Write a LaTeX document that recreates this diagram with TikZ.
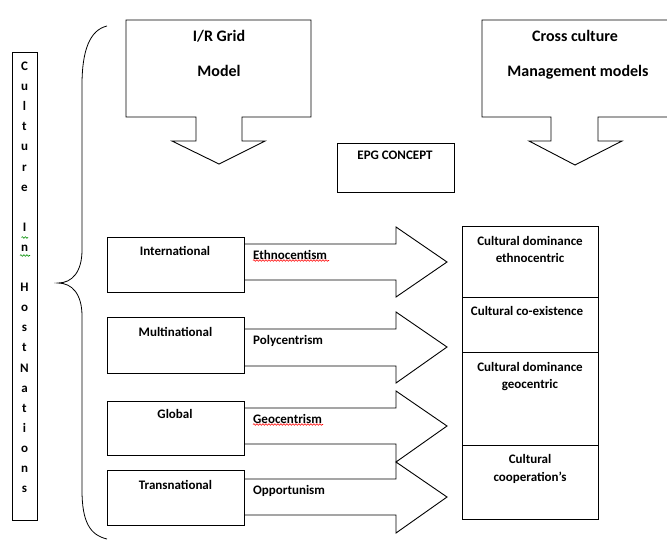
\documentclass[tikz,border=0pt]{standalone}
\usepackage{fontspec}
\setmainfont{Carlito}
\usetikzlibrary{positioning}
\usetikzlibrary{decorations.pathmorphing}

\tikzset{
  box/.style={rectangle,draw=black,line width=0.9pt,inner sep=0pt},
  lbl/.style={font=\fontsize{13}{16}\selectfont\bfseries,inner sep=0pt,anchor=base},
  ttl/.style={font=\fontsize{16}{20}\selectfont\bfseries,inner sep=0pt,anchor=base},
  blk/.style={draw=black,line width=0.9pt,line join=miter},
  squig/.style={decorate,decoration={snake,amplitude=0.8pt,segment length=3pt},line width=0.6pt}
}

\begin{document}
\begin{tikzpicture}[x=1pt,y=-1pt]
\useasboundingbox (0,0) rectangle (667,544);
% side column
\node[box,minimum width=25pt,minimum height=468pt,anchor=north west](side) at (12,52){};
\foreach \ch [count=\i from 0] in {C,u,l,t,u,r,e,{},I,n,{},H,o,s,t,N,a,t,i,o,n,s}
  \node[lbl](s\i) at (24.5,{70.5+20.1*\i}){\ch};
\draw[squig,green!55!black] (21.5,237.5) -- (28,237.5);
\draw[squig,green!55!black] (20,255.5) -- (30,255.5);
% brace
\draw[line width=0.8pt] (107,26) .. controls (90,30) and (82,50) .. (82,85) -- (82,250)
  .. controls (82,272) and (72,283) .. (58,283) .. controls (72,283) and (82,294) .. (82,316)
  -- (82,490) .. controls (82,522) and (90,535) .. (107,539);
% top boxes
\draw[blk] (126,20) -- (311,20) -- (311,117) -- (242,117) -- (242,141) -- (265,141) -- (219,164)
  -- (172,141) -- (196,141) -- (196,117) -- (126,117) -- cycle;
\node[ttl](grid1) at (219,41.5){I/R Grid};
\node[ttl](grid2) at (219,76.5){Model};
\draw[blk] (667,20) -- (482,20) -- (482,117) -- (551,117) -- (551,141) -- (529,141) -- (575,165)
  -- (622,141) -- (598,141) -- (598,117) -- (667,117);
\node[ttl](cross1) at (575,41.5){Cross culture};
\node[ttl](cross2) at (578,76.5){Management models};
\node[box,minimum width=117pt,minimum height=49pt,anchor=north west](epg) at (337,143){};
\node[lbl](epgt) at (395,159.5){EPG CONCEPT};
% left boxes
\node[box,minimum width=137pt,minimum height=55pt,anchor=north west](intl) at (107,237){};
\node[box,minimum width=137pt,minimum height=56pt,anchor=north west](multi) at (107,317){};
\node[box,minimum width=137pt,minimum height=54pt,anchor=north west](glob) at (107,401){};
\node[box,minimum width=137pt,minimum height=55pt,anchor=north west](trans) at (107,470){};
\node[lbl](intlt) at (175,255){International};
\node[lbl](multit) at (175.5,336){Multinational};
\node[lbl](globt) at (175,418){Global};
\node[lbl](transt) at (175.5,489){Transnational};
% block arrows
\draw[blk] (intl.east |- 0,244) -- (396,244) -- (396,227) -- (447,262) -- (396,297) -- (396,280) -- (intl.east |- 0,280);
\draw[blk] (multi.east |- 0,329) -- (396,329) -- (396,312) -- (447,347) -- (396,383) -- (396,366) -- (multi.east |- 0,366);
\draw[blk] (glob.east |- 0,408) -- (396,408) -- (396,391) -- (447,426) -- (396,462) -- (396,444) -- (glob.east |- 0,444);
\draw[blk] (trans.east |- 0,479) -- (396,479) -- (396,462) -- (447,497) -- (396,533) -- (396,515) -- (trans.east |- 0,515);
\node[lbl,anchor=base west](ethno) at (253,259){Ethnocentism};
\node[lbl,anchor=base west](poly) at (253,344){Polycentrism};
\node[lbl,anchor=base west](geo) at (253,423){Geocentrism};
\node[lbl,anchor=base west](opp) at (253,494){Opportunism};
\draw[squig,red] (ethno.base west) ++(0,1.5) -- ++(76,0);
\draw[squig,red] (geo.base west) ++(0,1.5) -- ++(70,0);
% right column
\node[box,minimum width=136pt,minimum height=71pt,anchor=north west](r1) at (462,226){};
\node[box,minimum width=136pt,minimum height=55pt,anchor=north west](r2) at (462,297){};
\node[box,minimum width=136pt,minimum height=93pt,anchor=north west](r3) at (462,352){};
\node[box,minimum width=136pt,minimum height=74pt,anchor=north west](r4) at (462,445){};
\node[lbl](r1a) at (530,245){Cultural dominance};
\node[lbl](r1b) at (530,262){ethnocentric};
\node[lbl](r2a) at (527,315){Cultural co-existence};
\node[lbl](r3a) at (530,371){Cultural dominance};
\node[lbl](r3b) at (530,388){geocentric};
\node[lbl](r4a) at (530,463){Cultural};
\node[lbl](r4b) at (530,481){cooperation’s};
\end{tikzpicture}
\end{document}
